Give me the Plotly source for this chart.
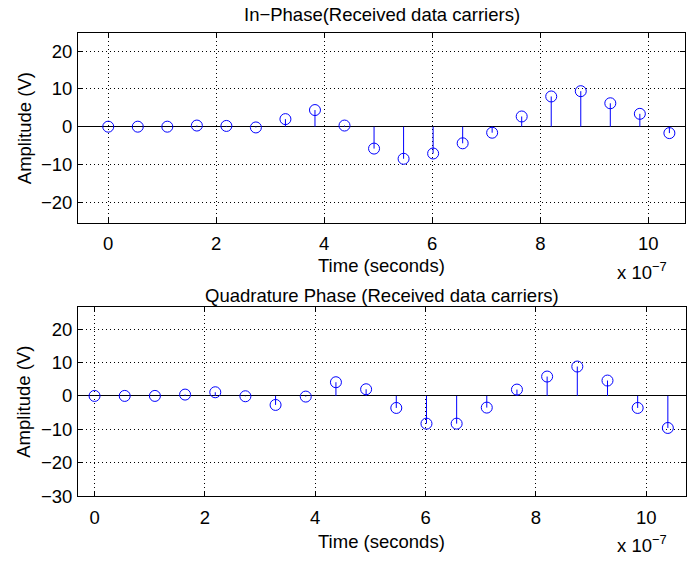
import plotly.graph_objects as go

# time samples (units of 1e-7 s)
t = [0.0, 0.547, 1.094, 1.641, 2.188, 2.734, 3.281, 3.828, 4.375, 4.922,
     5.469, 6.016, 6.563, 7.109, 7.656, 8.203, 8.750, 9.297, 9.844, 10.391]

# received in-phase and quadrature amplitudes (V)
i_amp = [0.0, 0.0, 0.0, 0.3, 0.2, -0.2, 2.0, 4.4, 0.3, -5.8,
         -8.5, -7.1, -4.4, -1.6, 2.7, 8.0, 9.4, 6.2, 3.4, -1.7]
q_amp = [0.0, 0.0, 0.0, 0.4, 1.1, -0.1, -2.7, -0.2, 4.1, 2.0,
         -3.6, -8.3, -8.3, -3.5, 1.9, 5.8, 8.8, 4.6, -3.6, -9.6]

y_ticks = [-30, -20, -10, 0, 10, 20]
x_ticks = [0, 2, 4, 6, 8, 10]

BLUE = "#0000ff"
FONT = "Liberation Sans, Arial, sans-serif"
FS = 18.5


def stem(x, y, xa, ya):
    sx, sy = [], []
    for a, b in zip(x, y):
        sx += [a, a, None]
        sy += [0, b, None]
    lines = go.Scatter(x=sx, y=sy, mode="lines", line=dict(color=BLUE, width=1),
                       xaxis=xa, yaxis=ya, hoverinfo="skip")
    marks = go.Scatter(x=x, y=y, mode="markers", xaxis=xa, yaxis=ya,
                       marker=dict(symbol="circle-open", size=11, color=BLUE,
                                   line=dict(color=BLUE, width=1)))
    return [lines, marks]


fig = go.Figure(stem(t, i_amp, "x", "y") + stem(t, q_amp, "x2", "y2"))

W, H = 687, 565

def xdom(l, r):
    return [l / W, r / W]

def ydom(top, bot):
    return [1 - bot / H, 1 - top / H]

axis_common = dict(
    showline=True, linecolor="black", linewidth=1, mirror="allticks",
    ticks="inside", ticklen=5, tickcolor="black",
    showgrid=True, gridcolor="black", gridwidth=1, griddash="1px,3px",
    tickfont=dict(family=FONT, size=FS, color="black"),
)

fig.update_layout(
    width=W, height=H, margin=dict(l=0, r=0, t=0, b=0),
    plot_bgcolor="white", paper_bgcolor="white", showlegend=False,
    font=dict(family=FONT, size=FS, color="black"),
    xaxis=dict(domain=xdom(78, 685), range=[-0.56, 10.68], tickvals=x_ticks,
               anchor="y", zeroline=False, ticklabelstandoff=4, **axis_common),
    yaxis=dict(domain=ydom(34, 227), range=[-25.5, 24.7], tickvals=y_ticks,
               anchor="x", zeroline=True, zerolinecolor="black", zerolinewidth=1,
               ticklabelstandoff=1, **axis_common),
    xaxis2=dict(domain=xdom(78, 686), range=[-0.30, 10.72], tickvals=x_ticks,
                anchor="y2", zeroline=False, ticklabelstandoff=5, **axis_common),
    yaxis2=dict(domain=ydom(313, 505), range=[-30, 26.5], tickvals=y_ticks,
                anchor="x2", zeroline=True, zerolinecolor="black", zerolinewidth=1,
                ticklabelstandoff=1, **axis_common),
)

ann = []
font = dict(family=FONT, size=FS, color="black")
for title, ytop, ybot, ty, ly, ey in [
        ("In−Phase(Received data carriers)", 34, 227, 15, 270, 276),
        ("Quadrature Phase (Received data carriers)", 313, 505, 301, 551, 554)]:
    ann.append(dict(text=title, x=(78 + 685) / 2 / W, y=1 - ty / H, font=font,
                    xref="paper", yref="paper", showarrow=False, yanchor="middle"))
    ann.append(dict(text="Time (seconds)", x=(78 + 685) / 2 / W, y=1 - ly / H, font=font,
                    xref="paper", yref="paper", showarrow=False, yanchor="middle"))
    ann.append(dict(text="x 10<sup>−7</sup>", x=669 / W, y=1 - ey / H, font=font,
                    xref="paper", yref="paper", showarrow=False,
                    xanchor="right", yanchor="middle"))
    ann.append(dict(text="Amplitude (V)", x=24 / W, y=1 - (ytop + ybot) / 2 / H, font=font,
                    xref="paper", yref="paper", showarrow=False, textangle=-90,
                    xanchor="center", yanchor="middle"))
fig.update_layout(annotations=ann)

fig.write_html("out.html", config={"displayModeBar": False},
               post_script="document.body.style.margin='0';")
